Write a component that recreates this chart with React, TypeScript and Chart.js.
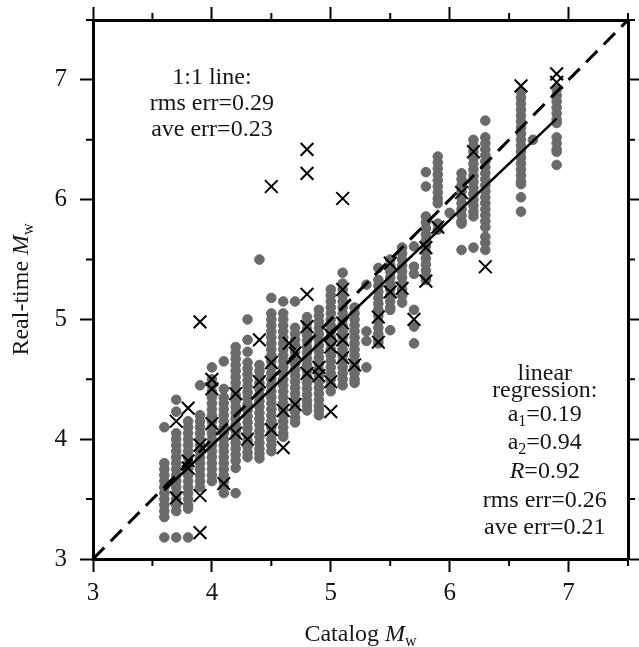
import React, { useEffect, useRef } from 'react';
import { Chart, registerables } from 'chart.js';

Chart.register(...registerables);

// ---------- data ----------
const dotCatalog = [3.6, 3.7, 3.8, 3.9, 4.0, 4.1, 4.2, 4.3, 4.4, 4.5, 4.6, 4.7, 4.8, 4.9, 5.0, 5.1, 5.2, 5.3, 5.4, 5.5, 5.6, 5.7, 5.8, 5.9, 6.0, 6.1, 6.2, 6.3, 6.6, 6.7, 6.9];
const dotRealtime: number[][] = [
  [4.1, 3.8, 3.75, 3.7, 3.65, 3.6, 3.55, 3.5, 3.45, 3.4, 3.35, 3.18],
  [4.33, 4.23, 4.05, 4.0, 3.95, 3.9, 3.85, 3.8, 3.75, 3.7, 3.65, 3.6, 3.55, 3.5, 3.45, 3.4, 3.18],
  [4.15, 4.1, 4.05, 4.0, 3.95, 3.9, 3.85, 3.8, 3.75, 3.7, 3.65, 3.6, 3.55, 3.5, 3.45, 3.42, 3.18],
  [4.45, 4.2, 4.15, 4.1, 4.05, 4.0, 3.95, 3.9, 3.85, 3.8, 3.75, 3.7, 3.65, 3.6],
  [4.6, 4.5, 4.45, 4.4, 4.35, 4.3, 4.25, 4.2, 4.15, 4.1, 4.05, 4.0, 3.95, 3.9, 3.85, 3.8, 3.75, 3.7, 3.65],
  [4.65, 4.42, 4.35, 4.3, 4.25, 4.2, 4.15, 4.1, 4.05, 4.0, 3.95, 3.9, 3.85, 3.8, 3.75, 3.7, 3.65, 3.6, 3.55],
  [4.77, 4.72, 4.67, 4.62, 4.57, 4.52, 4.47, 4.42, 4.37, 4.32, 4.27, 4.22, 4.17, 4.12, 4.07, 4.02, 3.97, 3.92, 3.87, 3.82, 3.76, 3.55],
  [5.0, 4.83, 4.73, 4.64, 4.59, 4.54, 4.49, 4.44, 4.39, 4.34, 4.29, 4.24, 4.19, 4.14, 4.09, 4.04, 3.99, 3.94, 3.89, 3.85],
  [5.5, 4.62, 4.57, 4.52, 4.47, 4.42, 4.37, 4.32, 4.27, 4.22, 4.17, 4.12, 4.07, 4.02, 3.97, 3.92, 3.88, 3.84],
  [5.18, 5.05, 5.0, 4.95, 4.9, 4.85, 4.8, 4.75, 4.7, 4.65, 4.6, 4.55, 4.5, 4.45, 4.4, 4.35, 4.3, 4.25, 4.2, 4.15, 4.1, 4.05, 4.0, 3.95, 3.9],
  [5.15, 5.05, 5.0, 4.95, 4.9, 4.85, 4.8, 4.75, 4.7, 4.65, 4.6, 4.55, 4.5, 4.45, 4.4, 4.35, 4.3, 4.25, 4.2, 4.15, 4.1, 4.05, 4.02],
  [5.15, 4.93, 4.88, 4.83, 4.78, 4.73, 4.68, 4.63, 4.58, 4.53, 4.48, 4.43, 4.38, 4.33, 4.28, 4.23, 4.18, 4.14],
  [5.02, 4.97, 4.92, 4.87, 4.82, 4.77, 4.72, 4.67, 4.62, 4.57, 4.52, 4.47, 4.42, 4.37, 4.32, 4.28, 4.24],
  [5.08, 5.03, 4.98, 4.93, 4.88, 4.83, 4.78, 4.73, 4.68, 4.63, 4.58, 4.53, 4.48, 4.43, 4.38, 4.33, 4.28, 4.24, 4.2],
  [5.25, 5.2, 5.15, 5.1, 5.05, 5.0, 4.95, 4.9, 4.85, 4.8, 4.75, 4.7, 4.65, 4.6, 4.55, 4.5, 4.45, 4.4],
  [5.39, 5.3, 5.25, 5.2, 5.15, 5.1, 5.05, 5.0, 4.95, 4.9, 4.85, 4.8, 4.75, 4.7, 4.65, 4.6, 4.55, 4.5, 4.45],
  [5.1, 5.05, 5.0, 4.95, 4.9, 4.85, 4.8, 4.75, 4.7, 4.65, 4.6, 4.55, 4.5, 4.47],
  [5.29, 4.9, 4.82, 4.6],
  [5.43, 5.33, 5.28, 5.23, 5.18, 5.13, 5.08, 5.03, 4.98, 4.93, 4.88, 4.83, 4.8],
  [5.5, 5.45, 5.4, 5.35, 5.3, 5.25, 5.2, 5.15, 5.1, 5.08, 4.91],
  [5.6, 5.55, 5.5, 5.45, 5.4, 5.35, 5.3, 5.25, 5.2, 5.14],
  [5.61, 5.44, 5.38, 5.08, 4.94, 4.8],
  [6.23, 6.11, 5.86, 5.81, 5.76, 5.71, 5.66, 5.61, 5.56, 5.51, 5.46, 5.41, 5.36, 5.33],
  [6.36, 6.31, 6.26, 6.21, 6.16, 6.11, 6.06, 6.01, 5.97, 5.8, 5.75],
  [5.89],
  [6.22, 6.17, 6.12, 6.07, 6.02, 5.97, 5.92, 5.87, 5.82, 5.8, 5.58],
  [6.5, 6.45, 6.4, 6.35, 6.3, 6.25, 6.2, 6.15, 6.1, 6.05, 6.0, 5.95, 5.9, 5.86, 5.6],
  [6.66, 6.52, 6.47, 6.42, 6.37, 6.32, 6.27, 6.22, 6.17, 6.12, 6.07, 6.02, 5.97, 5.92, 5.87, 5.82, 5.77, 5.69, 5.64, 5.58],
  [6.9, 6.85, 6.8, 6.75, 6.7, 6.65, 6.6, 6.55, 6.5, 6.45, 6.4, 6.35, 6.3, 6.25, 6.2, 6.15, 6.13, 6.02, 5.9],
  [6.5],
  [6.92, 6.87, 6.82, 6.77, 6.72, 6.67, 6.64, 6.52, 6.47, 6.42, 6.4, 6.29],
];

const crossCatalog = [3.7, 3.8, 3.9, 3.8, 3.8, 3.7, 3.9, 3.9, 3.9, 4.0, 4.0, 4.0, 4.1, 4.2, 4.2, 4.3, 4.4, 4.4, 4.5, 4.5, 4.5, 4.6, 4.6, 4.7, 4.65, 4.7, 4.8, 4.8, 4.8, 4.8, 4.8, 4.9, 4.9, 5.0, 5.0, 5.0, 5.0, 5.1, 5.1, 5.1, 5.1, 5.1, 5.2, 5.4, 5.4, 5.5, 5.5, 5.6, 5.7, 5.8, 5.8, 5.9, 6.1, 6.2, 6.3, 6.6, 6.9, 6.9];
const crossRealtime = [4.15, 4.26, 3.95, 3.76, 3.82, 3.51, 3.53, 3.22, 4.98, 4.5, 4.42, 4.13, 3.63, 4.38, 4.05, 4.0, 4.83, 4.48, 4.64, 4.08, 6.11, 4.24, 3.93, 4.29, 4.8, 4.72, 6.42, 6.22, 5.21, 4.94, 4.55, 4.53, 4.6, 4.48, 4.87, 4.77, 4.23, 6.01, 5.25, 4.97, 4.83, 4.68, 4.62, 5.02, 4.81, 5.47, 5.23, 5.26, 5.0, 5.6, 5.32, 5.77, 6.06, 6.4, 5.44, 6.95, 7.05, 6.98];

const oneToOneX = [3, 7.5];
const oneToOneY = [3, 7.5];
const regressionX = [3.6, 6.9];
const regressionY = [3.574, 6.676];

const axisMin = 3;
const axisMax = 7.5;
const majorTicks = [3, 4, 5, 6, 7];
const minorTicks = [3.5, 4.5, 5.5, 6.5, 7.5];

type Seg = { t: string; italic?: boolean; sub?: boolean };
const leftNote: Seg[][] = [
  [{ t: '1:1 line:' }],
  [{ t: 'rms err=0.29' }],
  [{ t: 'ave err=0.23' }],
];
const rightNote: Seg[][] = [
  [{ t: 'linear' }],
  [{ t: 'regression:' }],
  [{ t: 'a' }, { t: '1', sub: true }, { t: '=0.19' }],
  [{ t: 'a' }, { t: '2', sub: true }, { t: '=0.94' }],
  [{ t: 'R', italic: true }, { t: '=0.92' }],
  [{ t: 'rms err=0.26' }],
  [{ t: 'ave err=0.21' }],
];
const xTitle: Seg[] = [{ t: 'Catalog ' }, { t: 'M', italic: true }, { t: 'w', sub: true }];
const yTitle: Seg[] = [{ t: 'Real-time ' }, { t: 'M', italic: true }, { t: 'w', sub: true }];

// ---------- styling ----------
const SERIF = '"Liberation Serif", "Times New Roman", Times, serif';
const FS = 24;
const TICK_FS = 25;
const TEXT = '#161616';

function fontFor(s: Seg, size: number) {
  const sz = s.sub ? Math.round(size * 0.68) : size;
  return `${s.italic ? 'italic ' : ''}${sz}px ${SERIF}`;
}

function drawRich(ctx: CanvasRenderingContext2D, segs: Seg[], cx: number, baseline: number, size: number) {
  let total = 0;
  for (const s of segs) {
    ctx.font = fontFor(s, size);
    total += ctx.measureText(s.t).width;
  }
  let x = cx - total / 2;
  ctx.textAlign = 'left';
  ctx.textBaseline = 'alphabetic';
  for (const s of segs) {
    ctx.font = fontFor(s, size);
    ctx.fillText(s.t, x, baseline + (s.sub ? size * 0.22 : 0));
    x += ctx.measureText(s.t).width;
  }
}

const decorPlugin = {
  id: 'decor',
  afterDraw(chart: any) {
    const { ctx, chartArea, scales } = chart;
    const sx = scales.x;
    const sy = scales.y;
    ctx.save();
    // minor ticks, outward on all four sides
    ctx.strokeStyle = '#000';
    ctx.lineWidth = 2;
    ctx.beginPath();
    for (const v of minorTicks) {
      const px = sx.getPixelForValue(v);
      const py = sy.getPixelForValue(v);
      ctx.moveTo(px, chartArea.bottom);
      ctx.lineTo(px, chartArea.bottom + 7);
      ctx.moveTo(px, chartArea.top);
      ctx.lineTo(px, chartArea.top - 7);
      ctx.moveTo(chartArea.left, py);
      ctx.lineTo(chartArea.left - 7, py);
      ctx.moveTo(chartArea.right, py);
      ctx.lineTo(chartArea.right + 7, py);
    }
    ctx.stroke();

    ctx.fillStyle = TEXT;
    // x title
    drawRich(ctx, xTitle, (chartArea.left + chartArea.right) / 2, chartArea.bottom + 82, FS);
    // y title (rotated)
    ctx.save();
    ctx.translate(chartArea.left - 65, (chartArea.top + chartArea.bottom) / 2);
    ctx.rotate(-Math.PI / 2);
    drawRich(ctx, yTitle, 0, 0, FS);
    ctx.restore();

    // left note
    const lx = sx.getPixelForValue(4.0);
    leftNote.forEach((line, i) => {
      drawRich(ctx, line, lx, chartArea.top + 64 + i * 26, FS);
    });
    // right note
    const rx = sx.getPixelForValue(6.8);
    const rBase = [360, 377, 401, 429, 458, 487, 514];
    rightNote.forEach((line, i) => {
      drawRich(ctx, line, rx, chartArea.top + rBase[i], FS);
    });
    ctx.restore();
  },
};

function tickColor(c: any) {
  return Number.isInteger(c.tick && c.tick.value) ? '#000' : 'rgba(0,0,0,0)';
}

function axis(position: string, showLabels: boolean, size: number, horizontal: boolean, padding: number) {
  return {
    type: 'linear',
    position,
    min: axisMin,
    max: axisMax,
    grid: {
      display: true,
      drawOnChartArea: false,
      drawTicks: true,
      tickLength: 13,
      tickWidth: 2,
      tickColor,
    },
    border: { display: true, color: '#000', width: 3 },
    ticks: {
      display: showLabels,
      stepSize: 0.5,
      padding,
      color: TEXT,
      font: { family: SERIF, size: TICK_FS },
      callback: (v: number) => (majorTicks.includes(v) ? String(v) : ''),
      maxRotation: 0,
      autoSkip: false,
    },
    afterFit: (scale: any) => {
      if (horizontal) scale.height = size;
      else scale.width = size;
      scale.paddingTop = 0;
      scale.paddingBottom = 0;
      scale.paddingLeft = 0;
      scale.paddingRight = 0;
    },
  };
}

export default function App() {
  const ref = useRef<HTMLCanvasElement | null>(null);
  useEffect(() => {
    if (!ref.current) return;
    const dots: { x: number; y: number }[] = [];
    dotCatalog.forEach((c, i) => dotRealtime[i].forEach((r) => dots.push({ x: c, y: r })));
    const crosses = crossCatalog.map((c, i) => ({ x: c, y: crossRealtime[i] }));
    const chart = new Chart(ref.current, {
      type: 'scatter',
      data: {
        datasets: [
          {
            data: regressionX.map((x, i) => ({ x, y: regressionY[i] })),
            showLine: true,
            borderColor: '#000',
            borderWidth: 2.5,
            pointRadius: 0,
            order: 1,
          },
          {
            data: oneToOneX.map((x, i) => ({ x, y: oneToOneY[i] })),
            showLine: true,
            borderColor: '#000',
            borderWidth: 3,
            borderDash: [16, 9],
            pointRadius: 0,
            order: 2,
          },
          {
            data: crosses,
            pointStyle: 'crossRot',
            pointRadius: 9,
            borderColor: '#000',
            borderWidth: 2,
            backgroundColor: 'rgba(0,0,0,0)',
            order: 3,
          },
          {
            data: dots,
            pointStyle: 'circle',
            pointRadius: 4.8,
            backgroundColor: '#6a6a6a',
            borderColor: '#6a6a6a',
            borderWidth: 1,
            order: 4,
          },
        ],
      } as any,
      options: {
        responsive: false,
        animation: false,
        devicePixelRatio: 1,
        events: [],
        layout: { padding: 0 },
        plugins: { legend: { display: false }, tooltip: { enabled: false }, title: { display: false } },
        scales: {
          x: axis('bottom', true, 88, true, 6),
          x2: axis('top', false, 20, true, 0),
          y: axis('left', true, 93, false, 13),
          y2: axis('right', false, 8, false, 0),
        } as any,
      },
      plugins: [decorPlugin],
    });
    return () => chart.destroy();
  }, []);
  return (
    <div style={{ position: 'absolute', left: 0, top: 0, width: 639, height: 647, background: '#fff' }}>
      <canvas ref={ref} width={639} height={647} style={{ width: 639, height: 647, display: 'block' }} />
    </div>
  );
}
